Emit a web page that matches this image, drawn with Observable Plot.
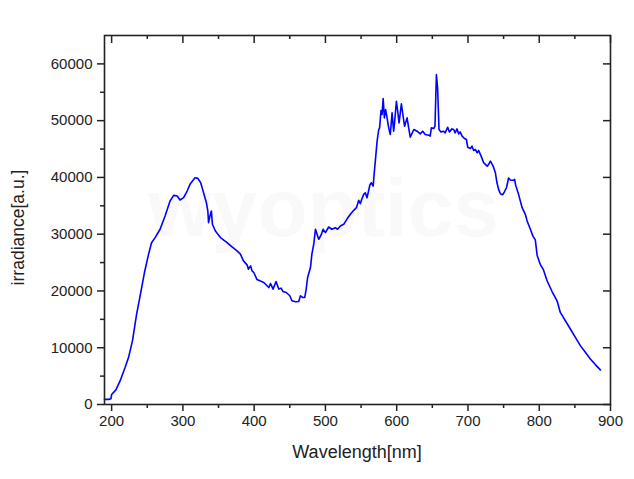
<!DOCTYPE html>
<html>
<head>
<meta charset="utf-8">
<script src="https://cdn.jsdelivr.net/npm/d3@7"></script>
<script src="https://cdn.jsdelivr.net/npm/@observablehq/plot@0.6"></script>
<style>
  html, body { margin: 0; padding: 0; background: #fff; }
  #chart { width: 634px; height: 479px; }
  svg { font-family: "Liberation Sans", Arial, sans-serif; }
</style>
</head>
<body>
<div id="chart"></div>
<script>
const wavelength = [190,196,199,200,206,212,219,223.7,229.3,234.9,240.5,246,251.7,256,261,268,275,282,287,292,296,301,306,310,317,321,325,329,333,335,336,338,340,341.4,345.6,352.7,362,369,376,380.7,385,390,392,395,397,399.5,404,413.5,420.5,423,426.5,430.7,434.5,437.8,440.5,445,450,453,458,462.5,465,468,471,473,475,479,481,483.6,486,490.6,494,496.7,500,504.6,509,514,517,521,525.6,530,535,539.7,543.5,546.7,549,551,553.7,556,558.3,562.5,564.5,567,568.7,570,572.5,574.8,576,578,579.5,581,582.7,584.5,586.5,588.8,591,593.5,595.7,597,599.6,601.4,603.3,606.6,609,611,614.6,616.8,619,624,628.5,633,636.5,640,645,647,648.6,652,653.7,655.7,657.4,659.4,662,665.8,668,671.5,674,677.5,680,682,684.6,687,689,691.8,695,697.8,699.6,703.4,705.7,708,710.4,713,715,718.5,722,724.5,727,729,731.5,734,736,738.5,740.7,743,745.5,748.5,750.5,754,757,759.5,762,764,765.5,767,771,776,780.5,783,787.6,791,794.5,797,801.4,806,811,818,825,829.6,836.7,843.7,850.7,857.7,864.7,871.7,878.7,885.8];
const irradiance = [900,900,1000,1750,2580,4200,6550,8260,11250,15800,19500,23200,26400,28500,29400,30870,33200,35840,36840,36720,36020,36430,37600,38780,39940,39830,39060,37300,35540,34090,32030,33200,34090,31750,30570,29400,28520,27760,27060,26480,25300,24600,23840,24420,23540,23250,22000,21500,20600,21310,20330,21660,20330,20500,19900,19730,19150,18270,18100,18150,19150,18850,18850,20330,22370,24120,26480,28230,30870,29110,29870,30870,30270,31270,30870,31150,30870,31450,31740,32620,33500,34200,34670,35960,35370,36140,37020,37300,36400,38700,39060,38480,41110,42870,46390,48440,48730,51780,51080,53890,50490,51950,50490,48730,47560,51370,48140,49600,53410,51660,49600,52950,50780,49020,50490,48730,47090,48440,48140,47670,48140,47560,47440,47270,48730,48610,49020,58100,55750,48440,48020,48140,47850,48840,48020,48550,48440,47850,48550,47670,48020,47270,46860,46680,45330,45100,45500,44750,44920,44330,44750,43750,42580,42290,41990,42290,42870,42290,41760,40820,39060,37900,37130,36950,37300,38180,39900,39560,39500,39480,39650,38600,37020,34670,33500,32330,30870,29700,29000,26300,24700,23700,21800,19900,18270,16220,14760,13300,11830,10370,9190,8030,7030,6100];

const xMajor = [200,300,400,500,600,700,800,900];
const xMinor = [250,350,450,550,650,750,850];
const yMajor = [0,10000,20000,30000,40000,50000,60000];
const yMinor = [5000,15000,25000,35000,45000,55000];
const xTitle = "Wavelength[nm]";
const yTitle = "irradiance[a.u.]";
const watermark = "wyoptics";

const W = 634, H = 479;
const mL = 104, mR = 24, mT = 35, mB = 75;
const pW = W - mL - mR, pH = H - mT - mB;
const ink = "#222";

const data = wavelength.map((w, i) => ({w, v: irradiance[i]}));

const plot = Plot.plot({
  width: W, height: H,
  marginLeft: mL, marginRight: mR, marginTop: mT, marginBottom: mB,
  style: {fontFamily: '"Liberation Sans", Arial, sans-serif', color: ink, background: "#fff"},
  x: {domain: [190, 900]},
  y: {domain: [0, 65000]},
  marks: [
    Plot.text([watermark], {frameAnchor: "middle", dx: -34, dy: -10, text: d => d, fontSize: 82, fontWeight: "bold", fill: "#f9f9f9"}),
    Plot.line(data, {x: "w", y: "v", stroke: "#0000ff", strokeWidth: 1.6}),
    Plot.frame({stroke: ink, strokeWidth: 1.6}),
    Plot.axisX(xMajor, {anchor: "bottom", tickSize: 7, tickPadding: 4, fontSize: 15, strokeWidth: 1.5, tickFormat: d => String(d), label: null}),
    Plot.ruleX(xMinor, {insetTop: pH, insetBottom: -4, stroke: ink, strokeWidth: 1.5}),
    Plot.ruleX(xMajor, {insetBottom: pH - 8, stroke: ink, strokeWidth: 1.5}),
    Plot.ruleX(xMinor, {insetBottom: pH - 4, stroke: ink, strokeWidth: 1.5}),
    Plot.axisY(yMajor, {anchor: "left", tickSize: 7, tickPadding: 5, fontSize: 15, strokeWidth: 1.5, tickFormat: d => String(d), label: null}),
    Plot.ruleY(yMinor, {insetLeft: -4, insetRight: pW, stroke: ink, strokeWidth: 1.5}),
    Plot.ruleY(yMajor, {insetLeft: pW - 7, stroke: ink, strokeWidth: 1.5})
  ]
});

const svg = d3.select(plot);
svg.append("text")
  .attr("x", mL + pW / 2).attr("y", 458)
  .attr("text-anchor", "middle")
  .attr("font-size", 18).attr("fill", ink)
  .text(xTitle);
svg.append("text")
  .attr("transform", `translate(24, ${mT + pH / 2 + 8}) rotate(-90)`)
  .attr("text-anchor", "middle")
  .attr("font-size", 17.5).attr("fill", ink)
  .text(yTitle);

document.getElementById("chart").appendChild(plot);
</script>
</body>
</html>
